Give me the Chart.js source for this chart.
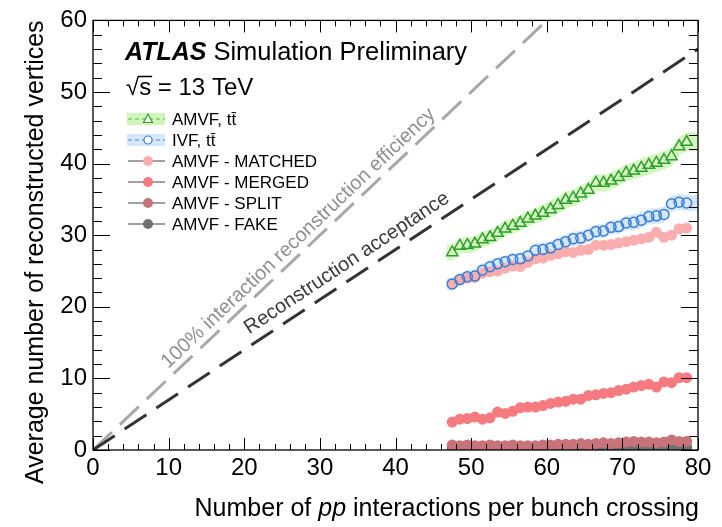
<!DOCTYPE html>
<html>
<head>
<meta charset="utf-8">
<script src="https://cdn.jsdelivr.net/npm/chart.js@4.4.0/dist/chart.umd.min.js"></script>
<style>
  body { margin: 0; background: #fff; }
  #wrap { width: 722px; height: 527px; }
</style>
</head>
<body>
<div id="wrap"><canvas id="vtxChart" width="722" height="527"></canvas></div>
<script>
// average number of pp interactions (bin centres)
const mu = [47.5, 48.5, 49.5, 50.5, 51.5, 52.5, 53.5, 54.5, 55.5, 56.5, 57.5, 58.5, 59.5, 60.5, 61.5, 62.5,
            63.5, 64.5, 65.5, 66.5, 67.5, 68.5, 69.5, 70.5, 71.5, 72.5, 73.5, 74.5, 75.5, 76.5, 77.5, 78.5];

const amvfTtbar = [27.6, 28.5, 28.6, 28.8, 29.4, 29.7, 30.3, 30.9, 31.3, 31.7, 32.3, 32.7, 33.1, 33.6, 34.2, 34.9,
                   35.2, 35.8, 36.3, 37.3, 37.3, 37.6, 38.1, 38.7, 39.0, 39.4, 39.8, 40.1, 40.5, 41.0, 42.4, 43.0];
const amvfTtbarErr = [1.1, 1.1, 1.1, 1.1, 1.1, 1.1, 1.1, 1.1, 1.1, 1.1, 1.1, 1.1, 1.2, 1.2, 1.2, 1.2,
                      1.2, 1.2, 1.2, 1.2, 1.2, 1.2, 1.2, 1.2, 1.2, 1.3, 1.3, 1.3, 1.3, 1.3, 1.3, 1.3];

const ivfTtbar = [23.2, 23.8, 24.2, 24.3, 25.1, 25.6, 26.0, 26.3, 26.6, 26.7, 27.1, 27.9, 28.0, 28.2, 28.7, 29.1,
                  29.5, 29.6, 30.0, 30.5, 30.6, 31.1, 31.2, 31.7, 31.8, 32.1, 32.6, 32.7, 32.9, 34.4, 34.6, 34.5];
const ivfTtbarErr = [0.9, 0.9, 0.9, 0.9, 0.9, 0.9, 0.9, 0.9, 0.9, 0.9, 0.9, 0.9, 1.0, 1.0, 1.0, 1.0,
                     1.0, 1.0, 1.0, 1.0, 1.0, 1.0, 1.0, 1.0, 1.1, 1.1, 1.1, 1.1, 1.1, 1.1, 1.1, 1.1];

const amvfMatched = [23.2, 23.8, 24.0, 24.1, 24.7, 24.9, 25.0, 25.4, 25.7, 25.6, 26.2, 26.7, 26.8, 27.2, 27.4, 27.7,
                     27.6, 27.9, 28.0, 28.6, 28.6, 28.7, 28.9, 29.1, 29.3, 29.5, 29.7, 30.4, 29.7, 30.0, 30.9, 31.0];
const amvfMerged = [3.9, 4.3, 4.4, 4.6, 4.3, 4.5, 5.3, 5.1, 5.4, 5.9, 6.0, 6.0, 6.2, 6.5, 6.7, 6.8,
                    7.1, 7.1, 7.6, 7.7, 7.9, 8.0, 8.3, 8.5, 8.8, 9.0, 9.2, 8.8, 9.5, 9.4, 10.1, 10.1];
const amvfSplit = [0.7, 0.6, 0.7, 0.6, 0.6, 0.7, 0.6, 0.6, 0.7, 0.6, 0.6, 0.6, 0.7, 0.7, 0.8, 0.8,
                   0.8, 0.9, 0.8, 0.9, 1.0, 0.9, 1.0, 1.1, 1.2, 1.1, 1.1, 1.0, 1.1, 1.4, 1.2, 1.2];
const amvfFake = [0.3, 0.3, 0.2, 0.3, 0.3, 0.2, 0.3, 0.3, 0.3, 0.2, 0.3, 0.3, 0.3, 0.3, 0.3, 0.4,
                  0.3, 0.3, 0.4, 0.3, 0.4, 0.4, 0.3, 0.4, 0.4, 0.4, 0.4, 0.4, 0.4, 0.5, 0.4, 0.4];

// band edges reach a bit past the first / last bin
const bandEdges = [46.8, 80];

const efficiencyLine = [{x: 0, y: 0}, {x: 60, y: 60}];   // one vertex per interaction
const acceptanceLine = [{x: 0, y: 0}, {x: 80, y: 56}];

const xTicks = [0, 10, 20, 30, 40, 50, 60, 70, 80];
const yTicks = [0, 10, 20, 30, 40, 50, 60];

const legendItems = [
  {label: 'AMVF, tt\u0304', kind: 'band', band: '#d0f5bb', line: '#58c040', marker: 'triangle', color: '#2f9e2f'},
  {label: 'IVF, tt\u0304', kind: 'band', band: '#d6e7fa', line: '#4a8be0', marker: 'circle', color: '#3a7fd5'},
  {label: 'AMVF - MATCHED', kind: 'dot', color: '#f9adae'},
  {label: 'AMVF - MERGED', kind: 'dot', color: '#f57b80'},
  {label: 'AMVF - SPLIT', kind: 'dot', color: '#c8737a'},
  {label: 'AMVF - FAKE', kind: 'dot', color: '#707070'}
];

const FONT = '"Liberation Sans", Arial, Helvetica, sans-serif';

function pts(ys) { return mu.map((x, i) => ({x: x, y: ys[i]})); }
function band(ys, err, sign) {
  const out = mu.map((x, i) => ({x: x, y: ys[i] + sign * err[i]}));
  out.unshift({x: bandEdges[0], y: out[0].y});
  out.push({x: bandEdges[1], y: out[out.length - 1].y});
  return out;
}

const atlasDecor = {
  id: 'atlasDecor',
  afterDatasetsDraw(chart) {
    const ctx = chart.ctx, a = chart.chartArea;
    const xs = chart.scales.x, ys = chart.scales.y;
    ctx.save();
    ctx.strokeStyle = '#000';
    ctx.lineWidth = 1.3;
    ctx.strokeRect(a.left, a.top, a.right - a.left, a.bottom - a.top);
    ctx.lineWidth = 1;
    ctx.beginPath();
    for (let v = 0; v <= 80; v += 2) {
      const px = Math.round(xs.getPixelForValue(v)) + 0.5;
      const len = v % 10 === 0 ? 12 : 6;
      ctx.moveTo(px, a.bottom); ctx.lineTo(px, a.bottom - len);
      ctx.moveTo(px, a.top); ctx.lineTo(px, a.top + len);
    }
    for (let v = 0; v <= 60; v += 2) {
      const py = Math.round(ys.getPixelForValue(v)) + 0.5;
      const len = v % 10 === 0 ? 17 : 9;
      ctx.moveTo(a.left, py); ctx.lineTo(a.left + len, py);
      ctx.moveTo(a.right, py); ctx.lineTo(a.right - len, py);
    }
    ctx.stroke();
    ctx.restore();
  },
  afterDraw(chart) {
    const ctx = chart.ctx, a = chart.chartArea;
    const xs = chart.scales.x, ys = chart.scales.y;
    ctx.save();
    ctx.fillStyle = '#000';
    ctx.textBaseline = 'alphabetic';

    // axis titles
    const t1 = 'Number of ', t2 = 'pp', t3 = ' interactions per bunch crossing';
    ctx.font = '25px ' + FONT;
    const w1 = ctx.measureText(t1).width, w3 = ctx.measureText(t3).width;
    ctx.font = 'italic 25px ' + FONT;
    const w2 = ctx.measureText(t2).width;
    let x0 = a.right + 1 - (w1 + w2 + w3);
    ctx.font = '25px ' + FONT; ctx.fillText(t1, x0, 516);
    ctx.font = 'italic 25px ' + FONT; ctx.fillText(t2, x0 + w1, 516);
    ctx.font = '25px ' + FONT; ctx.fillText(t3, x0 + w1 + w2, 516);

    ctx.save();
    ctx.translate(43, a.top);
    ctx.rotate(-Math.PI / 2);
    ctx.textAlign = 'right';
    ctx.fillText('Average number of reconstructed vertices', 0, 0);
    ctx.restore();

    // ATLAS label
    ctx.font = 'italic bold 25px ' + FONT;
    ctx.fillText('ATLAS', 125, 60);
    const wa = ctx.measureText('ATLAS ').width;
    ctx.font = '25.5px ' + FONT;
    ctx.fillText('Simulation Preliminary', 125 + wa, 60);
    ctx.font = '24px ' + FONT;
    ctx.fillText('\u221As = 13 TeV', 126, 95);
    const wr = ctx.measureText('\u221A').width, wsq = ctx.measureText('s').width;
    ctx.lineWidth = 1.5;
    ctx.beginPath();
    ctx.moveTo(126 + wr - 1, 76.5); ctx.lineTo(126 + wr + wsq + 1, 76.5);
    ctx.stroke();

    // diagonal labels
    const diag = (line, xAt, off, text, color) => {
      const p0x = xs.getPixelForValue(line[0].x), p0y = ys.getPixelForValue(line[0].y);
      const p1x = xs.getPixelForValue(line[1].x), p1y = ys.getPixelForValue(line[1].y);
      const ang = Math.atan2(p1y - p0y, p1x - p0x);
      const yAt = line[0].y + (line[1].y - line[0].y) * (xAt - line[0].x) / (line[1].x - line[0].x);
      ctx.save();
      ctx.translate(xs.getPixelForValue(xAt), ys.getPixelForValue(yAt));
      ctx.rotate(ang);
      ctx.font = '20px ' + FONT;
      ctx.fillStyle = color;
      ctx.textAlign = 'center';
      ctx.fillText(text, 0, -off);
      ctx.restore();
    };
    diag(efficiencyLine, 28.3, 7, '100% interaction reconstruction efficiency', '#8f8f8f');
    diag(acceptanceLine, 34.7, 10, 'Reconstruction acceptance', '#3a3a3a');

    // legend
    ctx.font = '17px ' + FONT;
    legendItems.forEach((it, i) => {
      const cy = 119 + i * 21;
      if (it.kind === 'band') {
        ctx.fillStyle = it.band;
        ctx.fillRect(127, cy - 6, 38, 12);
        ctx.strokeStyle = it.line;
        ctx.lineWidth = 1.2;
        ctx.setLineDash([4, 3]);
        ctx.beginPath(); ctx.moveTo(128, cy); ctx.lineTo(165, cy); ctx.stroke();
        ctx.setLineDash([]);
        ctx.fillStyle = '#fff';
        ctx.strokeStyle = it.color;
        ctx.beginPath();
        if (it.marker === 'triangle') {
          ctx.moveTo(148, cy - 5); ctx.lineTo(152.5, cy + 3.5); ctx.lineTo(143.5, cy + 3.5); ctx.closePath();
        } else {
          ctx.arc(148, cy, 4, 0, Math.PI * 2);
        }
        ctx.fill(); ctx.stroke();
      } else {
        ctx.strokeStyle = '#444';
        ctx.lineWidth = 1.2;
        ctx.beginPath(); ctx.moveTo(128, cy); ctx.lineTo(165, cy); ctx.stroke();
        ctx.fillStyle = it.color;
        ctx.beginPath(); ctx.arc(148, cy, 5, 0, Math.PI * 2); ctx.fill();
      }
      ctx.fillStyle = '#000';
      ctx.fillText(it.label, 172, cy + 6);
    });
    ctx.restore();
  }
};

const dots = (label, ys, color, order) => ({
  label: label, data: pts(ys), order: order,
  pointStyle: 'circle', pointRadius: 5.5, pointBorderWidth: 0,
  pointBackgroundColor: color, pointBorderColor: color, showLine: false
});

new Chart(document.getElementById('vtxChart'), {
  type: 'scatter',
  data: {
    datasets: [
      {label: 'amvf hi', data: band(amvfTtbar, amvfTtbarErr, 1), showLine: true, pointRadius: 0,
       borderWidth: 0, borderColor: 'rgba(0,0,0,0)', backgroundColor: 'rgba(176,238,140,0.55)', fill: '+1', tension: 0.3, order: 20},
      {label: 'amvf lo', data: band(amvfTtbar, amvfTtbarErr, -1), showLine: true, pointRadius: 0,
       borderWidth: 0, borderColor: 'rgba(0,0,0,0)', fill: false, tension: 0.3, order: 21},
      {label: 'ivf hi', data: band(ivfTtbar, ivfTtbarErr, 1), showLine: true, pointRadius: 0,
       borderWidth: 0, borderColor: 'rgba(0,0,0,0)', backgroundColor: 'rgba(180,212,246,0.55)', fill: '+1', tension: 0.3, order: 18},
      {label: 'ivf lo', data: band(ivfTtbar, ivfTtbarErr, -1), showLine: true, pointRadius: 0,
       borderWidth: 0, borderColor: 'rgba(0,0,0,0)', fill: false, tension: 0.3, order: 19},
      {label: 'efficiency', data: efficiencyLine, showLine: true, pointRadius: 0, borderColor: '#a8a8a8',
       borderWidth: 3, borderDash: [26, 11], order: 16},
      {label: 'acceptance', data: acceptanceLine, showLine: true, pointRadius: 0, borderColor: '#333333',
       borderWidth: 3, borderDash: [26, 12], order: 15},
      dots('AMVF - FAKE', amvfFake, '#707070', 9),
      dots('AMVF - SPLIT', amvfSplit, '#c8737a', 8),
      dots('AMVF - MERGED', amvfMerged, '#f57b80', 7),
      dots('AMVF - MATCHED', amvfMatched, '#f9adae', 6),
      {label: 'IVF, ttbar', data: pts(ivfTtbar), order: 4, showLine: false, pointStyle: 'circle',
       pointRadius: 5, pointBorderWidth: 1.5, pointBorderColor: '#3a7fd5', pointBackgroundColor: 'rgba(255,255,255,0)'},
      {label: 'AMVF, ttbar', data: pts(amvfTtbar), order: 3, showLine: false, pointStyle: 'triangle',
       pointRadius: 6.5, pointBorderWidth: 1.5, pointBorderColor: '#2f9e2f', pointBackgroundColor: 'rgba(255,255,255,0)'}
    ]
  },
  options: {
    responsive: false,
    animation: false,
    layout: {padding: {top: 15, right: 24, left: 0, bottom: 0}},
    plugins: {legend: {display: false}, tooltip: {enabled: false}},
    events: [],
    scales: {
      x: {
        type: 'linear', min: 0, max: 80,
        afterBuildTicks: s => { s.ticks = xTicks.map(v => ({value: v})); },
        afterFit: s => { s.height = 77; },
        grid: {display: false, drawTicks: false},
        border: {display: false},
        ticks: {color: '#000', padding: 4, maxRotation: 0, font: {family: FONT, size: 24}}
      },
      y: {
        type: 'linear', min: 0, max: 60,
        afterBuildTicks: s => { s.ticks = yTicks.map(v => ({value: v})); },
        afterFit: s => { s.width = 93; },
        grid: {display: false, drawTicks: false},
        border: {display: false},
        ticks: {color: '#000', padding: 6, font: {family: FONT, size: 24}}
      }
    }
  },
  plugins: [atlasDecor]
});
</script>
</body>
</html>
